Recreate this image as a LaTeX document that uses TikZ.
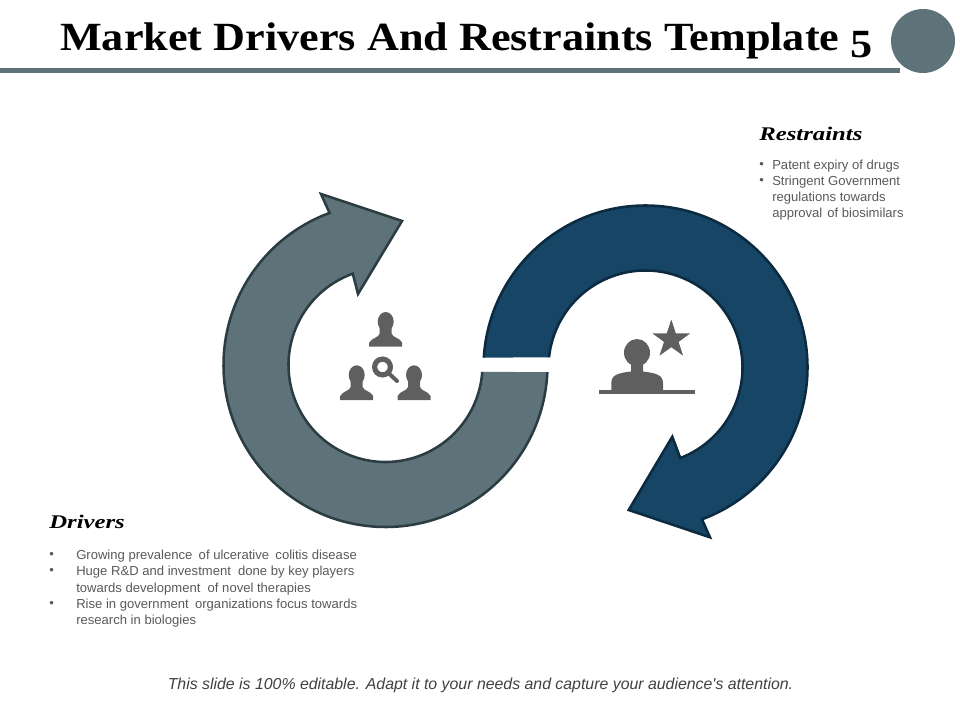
\documentclass[tikz,border=0pt]{standalone}
\usepackage{fontspec}
\setmainfont[Ligatures=TeXOff]{Liberation Sans}
\newfontfamily\titlefont[FakeStretch=1.105]{Liberation Serif}
\newfontfamily\headfont[FakeStretch=1.28]{Liberation Serif}
\usetikzlibrary{shapes.geometric}
\definecolor{slate}{HTML}{5E7379}
\definecolor{slatedark}{HTML}{2B3D43}
\definecolor{navy}{HTML}{164565}
\definecolor{navydark}{HTML}{0C2A40}
\definecolor{icongray}{HTML}{5F5F5F}
\tikzset{
  bodytext/.style={anchor=west,inner sep=0pt,yshift=-0.6pt,text=black!65,font=\fontsize{9.8}{9.8}\selectfont},
  headtext/.style={anchor=west,inner sep=0pt,font=\headfont\bfseries\itshape\fontsize{14.5}{15}\selectfont},
  person/.pic={
    \fill (0,-25) ellipse (8 and 9.7);
    \fill (-16.5,0) -- (-16.5,-4) .. controls (-14,-9) and (-7,-9) .. (-6,-13) -- (-6,-20) -- (6,-20) -- (6,-13)
      .. controls (7,-9) and (14,-9) .. (16.5,-4) -- (16.5,0) -- cycle;
  }
}
\begin{document}
\begin{tikzpicture}[x=0.75pt,y=-0.75pt]
  \useasboundingbox (0,0) rectangle (960,720);

  % Header
  \fill[slate] (0,68) rectangle (900,73);
  \fill[slate] (923,41) circle (32);
  \node[anchor=west,inner sep=0pt,font=\titlefont\bfseries\fontsize{30}{30}\selectfont] (title) at (60,41) {Market Drivers And Restraints Template \raisebox{-5pt}{5}};

  % Drivers arrow
  \coordinate (L) at (385.5,365);
  \draw[line width=1.9pt,fill=slate,draw=slatedark,line join=miter]
    ([shift={(L)}] 2.5:162) arc[start angle=2.5,end angle=249.8,radius=162]
    -- (321,194) -- (402,221) -- (358,294) -- ([shift={(L)}] 250.3:97)
    arc[start angle=250.3,end angle=4.1,radius=97];

  % Restraints arrow
  \coordinate (R) at (645.5,367.5);
  \draw[line width=1.9pt,fill=navy,draw=navydark,line join=miter]
    ([shift={(R)}] 183.5:162) arc[start angle=183.5,end angle=429.6,radius=162]
    -- (710,537.3) -- (628.7,510) -- (672.3,436.7) -- ([shift={(R)}] 429:97)
    arc[start angle=429,end angle=186,radius=97];

  % Group icon
  \begin{scope}[icongray]
    \path (385.7,346.7) pic {person};
    \path (356.7,400) pic {person};
    \path (414,400) pic {person};
    \draw[line width=3.9pt] (382.5,367) circle (7.9);
    \draw[line width=3pt,line cap=round] (389.5,374) -- (397,381);
  \end{scope}

  % Person with star
  \fill[icongray] (637,352.7) ellipse (13 and 13.7);
  \fill[icongray] (611.3,390) -- (611.3,383) .. controls (611.3,375) and (618,373) .. (631,371.5)
    -- (631,360) -- (643,360) -- (643,371.5) .. controls (656,373) and (663,375) .. (663,383) -- (663,390) -- cycle;
  \fill[icongray] (599,390) rectangle (695,394);
  \node[star,star points=5,star point ratio=2.6,fill=icongray,minimum size=30pt,inner sep=0pt] (starmark) at (671.3,339.5) {};

  % Restraints text
  \node[headtext] (restraints) at (759,134) {Restraints};
  \node[bodytext] (rb1) at (759,165) {•};
  \node[bodytext] (rb2) at (759,181) {•};
  \node[bodytext] (r1) at (772,165) {Patent expiry of drugs};
  \node[bodytext] (r2) at (772,181) {Stringent Government};
  \node[bodytext] (r3) at (772,197) {regulations towards};
  \node[bodytext] (r4) at (772,213) {approval \hspace{1pt}of biosimilars};

  % Drivers text
  \node[headtext] (drivers) at (49,522) {Drivers};
  \node[bodytext] (db1) at (49,555) {•};
  \node[bodytext] (db2) at (49,571) {•};
  \node[bodytext] (db3) at (49,604) {•};
  \node[bodytext] (d1) at (76,555) {Growing prevalence \hspace{2pt}of ulcerative \hspace{2pt}colitis disease};
  \node[bodytext] (d2) at (76,571) {Huge R\&D and investment\ \ done by key players};
  \node[bodytext] (d3) at (76,588) {towards development\ \ of novel therapies};
  \node[bodytext] (d4) at (76,604) {Rise in government \hspace{2pt}organizations focus towards};
  \node[bodytext] (d5) at (76,620) {research in biologies};

  % Footer
  \node[inner sep=0pt,text=black!75,font=\itshape\fontsize{11.9}{12}\selectfont] (footer) at (480.5,685.5) {This slide is 100\% editable. Adapt it to your needs and capture your audience's attention.};
\end{tikzpicture}
\end{document}
